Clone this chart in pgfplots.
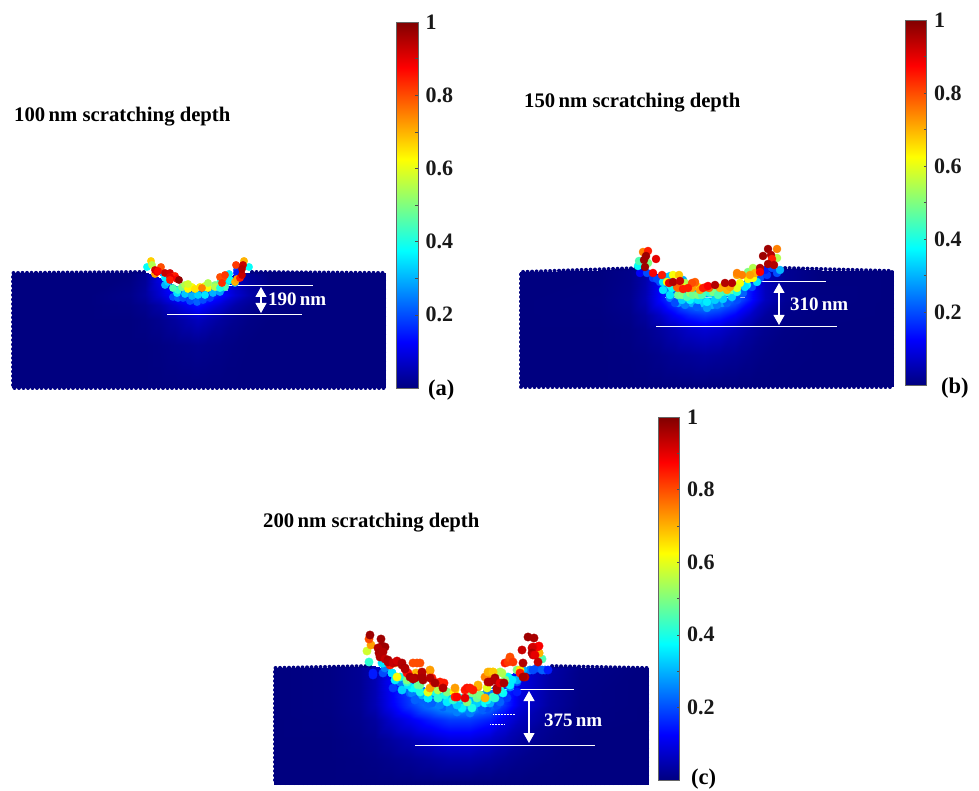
\documentclass[border=0pt]{standalone}
\usepackage{fontspec}
\setmainfont{Liberation Serif}
\usepackage{pgfplots}
\pgfplotsset{compat=1.18}
\usetikzlibrary{arrows.meta}
\definecolor{navy}{RGB}{0,0,128}
\newcommand{\ttl}{\bfseries\fontsize{20.7}{23}\selectfont}
\newcommand{\lbl}{\bfseries\fontsize{19}{21}\selectfont}
\newcommand{\pl}{\bfseries\fontsize{22.5}{24}\selectfont}
\pgfplotsset{
  panel/.style={
    scale only axis, hide axis, clip=false, y dir=reverse,
    colormap/jet, point meta min=0, point meta max=1,
    colorbar,
    colorbar style={
      anchor=north west, width=21.5pt, height=366pt,
      enlargelimits=false, xmin=0, xmax=1,
      ytick={0.2,0.4,0.6,0.8,1}, minor y tick num=1,
      yticklabels={0.2,0.4,0.6,0.8,1},
      tick align=inside, ytick pos=right,
      major tick length=3pt, minor tick length=3pt,
      tick style={color=black!70, line width=.5pt},
      axis line style={color=black!60, line width=.6pt},
      yticklabel style={font=\bfseries\fontsize{22}{24}\selectfont, text=black!90, xshift=4pt},
      /pgf/number format/assume math mode=true,
    },
  },
  base/.style={surf, shader=interp, mesh/cols=15, point meta=explicit},
  barfill/.style={surf, shader=interp, mesh/cols=2, point meta=explicit},
  edge/.style={navy, line width=4pt, line cap=round, dash pattern=on 0pt off 4.5pt},
  pts/.style={scatter, only marks, mark=*, mark size=4pt, point meta=explicit,
    scatter/use mapped color={draw=mapped color, fill=mapped color}},
  wl/.style={white, line width=.8pt},
  wa/.style={white, line width=1.1pt, {Triangle[width=11pt,length=10pt]}-{Triangle[width=11pt,length=10pt]}},
}
\begin{document}
\begin{tikzpicture}
\useasboundingbox (0,0) rectangle (979pt,791pt);
% ---------- panel a
\begin{axis}[panel, at={(0pt,391pt)}, width=470pt, height=400pt, xmin=0, xmax=470, ymin=0, ymax=400,
  colorbar style={at={(parent axis.north west)}, xshift=388pt, yshift=-22pt}]
\addplot[barfill] table[meta=m, row sep=\\] {
x y m\\
396.5 388 0\\ 418 388 0\\ 396.5 22 1\\ 418 22 1\\
};
\addplot[base] table[meta=m, row sep=\\] {
x y m\\
12 273 0\\ 90 273 0\\ 130 272 0\\ 145 272 .02\\ 160 278 .1\\ 175 285 .16\\ 190 289 .2\\ 198 289 .2\\ 205 289 .2\\ 220 283 .16\\ 235 274 .06\\ 250 272 .02\\ 270 272 0\\ 310 272 0\\ 385 273 0\\
12 295 0\\ 90 295 0\\ 130 295 .01\\ 145 295 .03\\ 160 295 .08\\ 175 295 .14\\ 190 295 .2\\ 198 295 .22\\ 205 295 .2\\ 220 295 .14\\ 235 295 .08\\ 250 295 .04\\ 270 295 .01\\ 310 295 0\\ 385 295 0\\
12 305 0\\ 90 305 0\\ 130 305 .005\\ 145 305 .015\\ 160 305 .04\\ 175 305 .08\\ 190 305 .12\\ 198 305 .14\\ 205 305 .12\\ 220 305 .08\\ 235 305 .04\\ 250 305 .02\\ 270 305 .005\\ 310 305 0\\ 385 305 0\\
12 320 0\\ 90 320 0\\ 130 320 0\\ 145 320 .005\\ 160 320 .015\\ 175 320 .03\\ 190 320 .05\\ 198 320 .06\\ 205 320 .05\\ 220 320 .03\\ 235 320 .015\\ 250 320 .005\\ 270 320 0\\ 310 320 0\\ 385 320 0\\
12 345 0\\ 90 345 0\\ 130 345 0\\ 145 345 0\\ 160 345 .003\\ 175 345 .008\\ 190 345 .012\\ 198 345 .015\\ 205 345 .012\\ 220 345 .008\\ 235 345 .003\\ 250 345 0\\ 270 345 0\\ 310 345 0\\ 385 345 0\\
12 388 0\\ 90 388 0\\ 130 388 0\\ 145 388 0\\ 160 388 0\\ 175 388 0\\ 190 388 0\\ 198 388 0\\ 205 388 0\\ 220 388 0\\ 235 388 0\\ 250 388 0\\ 270 388 0\\ 310 388 0\\ 385 388 0\\
};
\addplot[edge] coordinates {(144,272)(13,273)(13,388)(384,388)(384,273)(250,272)};
\addplot[pts, mark size=3.7pt] table[meta=m, row sep=\\] {
x y m\\
173 297 .2\\ 178 298 .22\\ 183 298 .2\\ 190 301 .2\\ 197 302 .22\\ 203 300 .2\\ 210 298 .18\\ 237 270 .2\\ 223 288 .3\\
177 293 .35\\ 185 294 .32\\ 192 296 .3\\ 198 295 .33\\ 205 295 .35\\ 213 293 .3\\ 220 292 .28\\ 165 285 .3\\ 163 273 .3\\ 168 282 .33\\ 227 282 .35\\
235 283 .3\\ 237 273 .15\\ 229 274 .36\\ 230 280 .38\\ 225 287 .45\\ 147 267 .38\\ 249 267 .38\\ 165 278 .36\\ 178 290 .42\\ 220 283 .42\\
173 288 .45\\ 182 287 .5\\ 185 285 .55\\ 192 287 .62\\ 200 287 .65\\ 205 286 .6\\ 215 285 .5\\ 188 289 .63\\ 195 289 .65\\ 208 288 .62\\ 215 287 .55\\ 220 288 .4\\ 202 288 .75\\
188 284 .58\\ 208 283 .55\\
151 261 .67\\ 152 265 .55\\ 161 267 .8\\ 155 274 .72\\ 155 270 .92\\ 157 272 .9\\ 158 271 .87\\ 165 273 .93\\ 170 273 .92\\ 173 277 .8\\ 175 276 .85\\ 170 277 .9\\ 170 280 .85\\ 177 279 .88\\ 179 280 .98\\
235 282 .7\\ 237 279 .72\\ 223 278 .8\\ 220 277 .8\\ 225 275 .82\\ 222 283 .83\\ 240 278 .85\\ 236 265 .82\\ 244 261 .7\\ 242 275 .93\\ 243 265 .93\\ 242 269 .95\\
};
\addplot[wl] coordinates {(195,285.5)(313,285.5)};
\addplot[wl] coordinates {(167,314)(302,314)};
\addplot[white, opacity=.6, line width=.5pt] coordinates {(172,290)(228,290)};
\addplot[wa] coordinates {(261,287)(261,313)};
\node[anchor=west, text=white, inner sep=0pt, font=\lbl] at (axis cs:268,299) {190\,nm};
\node[anchor=west, inner sep=0pt, font=\ttl] at (axis cs:14,116.5) {100\,nm scratching depth};
\node[anchor=west, inner sep=0pt, font=\pl] at (axis cs:428,390) {(a)};
\end{axis}
% ---------- panel b
\begin{axis}[panel, at={(490pt,391pt)}, width=489pt, height=400pt, xmin=490, xmax=979, ymin=0, ymax=400,
  colorbar style={at={(parent axis.north west)}, xshift=406.5pt, yshift=-20pt, height=365pt}]
\addplot[barfill] table[meta=m, row sep=\\] {
x y m\\
905 385 0\\ 926.5 385 0\\ 905 20 1\\ 926.5 20 1\\
};
\addplot[base] table[meta=m, row sep=\\] {
x y m\\
520 272 0\\ 600 270 0\\ 630 268 .01\\ 645 268 .04\\ 660 275 .12\\ 675 281 .2\\ 690 286 .25\\ 705 288 .25\\ 720 287 .25\\ 735 283 .22\\ 750 278 .15\\ 765 270 .06\\ 785 268 .02\\ 820 270 0\\ 893 271 0\\
520 300 0\\ 600 300 .003\\ 630 300 .015\\ 645 300 .05\\ 660 300 .13\\ 675 300 .2\\ 690 300 .27\\ 705 300 .3\\ 720 300 .27\\ 735 300 .22\\ 750 300 .14\\ 765 300 .06\\ 785 300 .02\\ 820 300 .003\\ 893 300 0\\
520 315 0\\ 600 315 .002\\ 630 315 .01\\ 645 315 .03\\ 660 315 .07\\ 675 315 .12\\ 690 315 .16\\ 705 315 .18\\ 720 315 .16\\ 735 315 .12\\ 750 315 .07\\ 765 315 .03\\ 785 315 .01\\ 820 315 .002\\ 893 315 0\\
520 330 0\\ 600 330 0\\ 630 330 .005\\ 645 330 .015\\ 660 330 .03\\ 675 330 .05\\ 690 330 .07\\ 705 330 .08\\ 720 330 .07\\ 735 330 .05\\ 750 330 .03\\ 765 330 .015\\ 785 330 .005\\ 820 330 0\\ 893 330 0\\
520 355 0\\ 600 355 0\\ 630 355 .002\\ 645 355 .005\\ 660 355 .012\\ 675 355 .02\\ 690 355 .025\\ 705 355 .03\\ 720 355 .025\\ 735 355 .02\\ 750 355 .012\\ 765 355 .005\\ 785 355 .002\\ 820 355 0\\ 893 355 0\\
520 387 0\\ 600 387 0\\ 630 387 0\\ 645 387 0\\ 660 387 0\\ 675 387 0\\ 690 387 0\\ 705 387 0\\ 720 387 0\\ 735 387 0\\ 750 387 0\\ 765 387 0\\ 785 387 0\\ 820 387 0\\ 893 387 0\\
};
\addplot[edge] coordinates {(640,268)(521,272)(521,387)(892,387)(892,271)(785,268)};
\addplot[pts] table[meta=m, row sep=\\] {
x y m\\
653 278 .18\\ 660 282 .2\\ 670 298 .25\\ 678 303 .28\\ 692 303 .3\\ 702 303 .33\\ 712 305 .3\\ 722 303 .28\\ 733 298 .25\\ 743 293 .22\\ 752 287 .2\\ 760 278 .2\\ 767 275 .18\\ 777 273 .2\\ 665 277 .3\\
675 303 .2\\ 685 305 .25\\ 697 307 .22\\ 707 308 .28\\ 717 305 .25\\ 727 303 .22\\ 737 300 .2\\ 667 290 .25\\ 640 273 .12\\ 647 273 .2\\ 657 279 .2\\ 765 270 .15\\ 772 268 .2\\ 780 270 .3\\
670 295 .35\\ 682 300 .33\\ 690 300 .38\\ 698 300 .35\\ 707 302 .36\\ 715 300 .33\\ 723 299 .33\\ 732 297 .33\\ 663 282 .35\\ 670 276 .32\\ 683 280 .3\\ 757 282 .35\\ 747 285 .38\\ 745 287 .35\\ 638 266 .38\\ 672 288 .38\\ 663 290 .35\\ 670 285 .4\\
678 295 .48\\ 682 295 .5\\ 687 297 .45\\ 690 293 .52\\ 693 295 .48\\ 698 295 .5\\ 702 295 .45\\ 705 292 .45\\ 710 293 .42\\ 713 292 .5\\ 718 295 .45\\ 722 292 .45\\ 727 292 .42\\ 732 290 .5\\ 737 292 .4\\ 639 261 .45\\ 648 263 .5\\ 748 272 .5\\ 753 268 .55\\ 777 258 .55\\
667 282 .62\\ 685 283 .55\\ 683 287 .6\\ 673 275 .62\\ 679 275 .68\\ 698 287 .65\\ 722 287 .6\\ 748 279 .62\\ 753 278 .62\\ 740 283 .62\\ 737 288 .6\\ 755 273 .7\\ 737 275 .72\\ 742 275 .75\\ 750 275 .72\\
678 288 .75\\ 677 287 .78\\ 695 283 .75\\ 695 282 .78\\ 692 288 .72\\ 700 290 .72\\ 709 288 .78\\ 720 288 .7\\ 727 290 .7\\ 730 287 .72\\ 692 283 .8\\ 683 289 .85\\ 688 288 .85\\ 706 287 .82\\ 703 288 .85\\ 708 286 .88\\ 643 252 .75\\ 777 249 .75\\ 737 273 .75\\
669 283 .9\\ 673 282 .95\\ 680 281 .93\\ 715 285 .95\\ 725 283 .95\\ 732 283 .95\\ 760 268 .95\\ 760 272 .88\\
648 251 .85\\ 646 256 .97\\ 644 260 .97\\ 656 259 .9\\ 645 267 .97\\ 653 273 .88\\ 662 275 .85\\
768 249 .97\\ 763 256 .97\\ 771 255 .95\\ 772 259 .85\\ 768 264 .96\\ 774 265 .95\\
};
\addplot[wl] coordinates {(745,281)(826,281)};
\addplot[wl] coordinates {(656,326.5)(837,326.5)};
\addplot[white, opacity=.6, line width=.5pt] coordinates {(665,297)(745,297)};
\addplot[wa] coordinates {(779,283)(779,325)};
\node[anchor=west, text=white, inner sep=0pt, font=\lbl] at (axis cs:790,304) {310\,nm};
\node[anchor=west, inner sep=0pt, font=\ttl] at (axis cs:524,102.5) {150\,nm scratching depth};
\node[anchor=west, inner sep=0pt, font=\pl] at (axis cs:941,388) {(b)};
\end{axis}
% ---------- panel c
\begin{axis}[panel, at={(240pt,0pt)}, width=490pt, height=391pt, xmin=240, xmax=730, ymin=400, ymax=791,
  colorbar style={at={(parent axis.north west)}, xshift=409.5pt, yshift=-17pt, height=363pt}]
\addplot[barfill] table[meta=m, row sep=\\] {
x y m\\
658 780 0\\ 679.5 780 0\\ 658 417 1\\ 679.5 417 1\\
};
\addplot[base] table[meta=m, row sep=\\] {
x y m\\
274 668 0\\ 330 667 .005\\ 360 666 .02\\ 375 666 .05\\ 390 670 .12\\ 410 680 .2\\ 430 690 .27\\ 450 695 .3\\ 470 694 .3\\ 490 688 .25\\ 505 678 .18\\ 520 668 .1\\ 550 666 .04\\ 580 667 .01\\ 648 668 0\\
274 705 0\\ 330 705 .005\\ 360 705 .02\\ 375 705 .05\\ 390 705 .11\\ 410 705 .18\\ 430 705 .25\\ 450 705 .3\\ 470 705 .3\\ 490 705 .25\\ 505 705 .17\\ 520 705 .09\\ 550 705 .03\\ 580 705 .005\\ 648 705 0\\
274 720 0\\ 330 720 .003\\ 360 720 .015\\ 375 720 .03\\ 390 720 .07\\ 410 720 .11\\ 430 720 .15\\ 450 720 .18\\ 470 720 .18\\ 490 720 .15\\ 505 720 .1\\ 520 720 .06\\ 550 720 .02\\ 580 720 .003\\ 648 720 0\\
274 740 0\\ 330 740 0\\ 360 740 .008\\ 375 740 .015\\ 390 740 .03\\ 410 740 .05\\ 430 740 .07\\ 450 740 .09\\ 470 740 .09\\ 490 740 .07\\ 505 740 .05\\ 520 740 .03\\ 550 740 .01\\ 580 740 0\\ 648 740 0\\
274 760 0\\ 330 760 0\\ 360 760 .003\\ 375 760 .006\\ 390 760 .012\\ 410 760 .02\\ 430 760 .03\\ 450 760 .04\\ 470 760 .04\\ 490 760 .03\\ 505 760 .02\\ 520 760 .012\\ 550 760 .004\\ 580 760 0\\ 648 760 0\\
274 784 0\\ 330 784 0\\ 360 784 0\\ 375 784 0\\ 390 784 0\\ 410 784 0\\ 430 784 0\\ 450 784 0\\ 470 784 0\\ 490 784 0\\ 505 784 0\\ 520 784 0\\ 550 784 0\\ 580 784 0\\ 648 784 0\\
};
\addplot[edge] coordinates {(370,666)(275,668)(275,783)(647,783)(647,668)(548,666)};
\addplot[pts, mark size=4.2pt] table[meta=m, row sep=\\] {
x y m\\
403 688 .22\\ 410 693 .22\\ 422 700 .22\\ 432 703 .22\\ 443 707 .22\\ 457 712 .25\\ 470 713 .25\\ 483 710 .22\\ 497 705 .2\\ 507 698 .18\\ 517 692 .15\\ 373 673 .15\\ 383 673 .2\\ 530 670 .25\\ 537 668 .2\\ 545 670 .2\\
373 675 .15\\ 393 688 .18\\ 385 668 .25\\ 487 708 .2\\ 500 702 .22\\ 510 687 .25\\ 517 682 .2\\ 533 670 .2\\ 542 670 .22\\ 548 670 .15\\ 440 705 .25\\ 450 708 .25\\ 462 709 .28\\ 472 710 .25\\ 412 693 .25\\ 422 695 .3\\ 400 682 .25\\ 415 700 .22\\ 428 704 .22\\ 482 708 .22\\
523 670 .3\\ 517 680 .3\\ 383 663 .35\\ 392 673 .36\\ 510 685 .36\\ 462 708 .36\\ 485 703 .38\\ 412 688 .38\\ 428 698 .38\\
402 690 .33\\ 408 685 .35\\ 428 698 .36\\ 438 698 .38\\ 447 702 .36\\ 457 705 .33\\ 468 702 .36\\ 477 703 .33\\ 490 703 .3\\ 487 700 .38\\ 503 693 .38\\ 392 673 .35\\ 382 663 .35\\ 508 677 .38\\ 369 662 .42\\ 395 680 .36\\ 415 688 .38\\ 435 692 .4\\ 460 698 .4\\ 512 680 .36\\
400 677 .4\\ 407 682 .42\\ 418 685 .48\\ 420 692 .4\\ 438 698 .42\\ 445 695 .4\\ 453 700 .42\\ 472 708 .4\\ 467 702 .5\\ 477 698 .48\\ 493 697 .45\\ 500 690 .4\\
397 677 .62\\ 407 680 .5\\ 420 685 .48\\ 447 692 .5\\ 472 693 .5\\ 480 695 .5\\ 495 698 .42\\ 517 670 .5\\ 542 659 .45\\ 367 651 .58\\ 428 692 .63\\ 454 692 .63\\ 500 672 .55\\ 493 672 .63\\ 490 672 .68\\ 487 677 .72\\ 438 690 .55\\ 505 680 .5\\ 428 692 .6\\ 455 690 .63\\ 487 688 .6\\ 502 673 .55\\ 520 670 .65\\
395 663 .72\\ 416 673 .7\\ 430 671 .75\\ 430 688 .72\\ 455 688 .72\\ 478 687 .72\\ 503 683 .72\\ 539 653 .7\\ 371 645 .72\\ 430 670 .72\\ 478 685 .7\\ 485 698 .7\\ 485 677 .75\\ 488 672 .7\\ 493 672 .68\\ 539 653 .7\\
369 639 .8\\ 417 663 .8\\ 413 663 .8\\ 420 663 .8\\ 390 665 .85\\ 408 673 .85\\ 407 673 .86\\ 432 678 .85\\ 433 681 .85\\ 440 682 .85\\ 440 683 .85\\ 443 685 .85\\ 444 683 .85\\ 455 697 .85\\ 457 697 .87\\ 465 690 .85\\ 467 688 .86\\ 473 690 .85\\ 470 688 .85\\ 505 663 .85\\ 508 662 .82\\ 510 658 .8\\ 510 657 .8\\ 513 662 .82\\ 520 673 .85\\ 537 647 .88\\ 539 646 .88\\ 533 647 .9\\
370 635 .97\\ 381 639 .97\\ 382 646 .97\\ 385 647 .97\\ 378 648 .95\\ 379 653 .96\\ 383 652 .95\\ 380 657 .95\\ 385 659 .93\\ 388 660 .96\\ 388 662 .95\\ 393 663 .93\\ 397 662 .95\\ 397 661 .92\\ 402 663 .95\\ 402 665 .95\\ 405 668 .96\\ 405 669 .95\\ 410 677 .96\\ 415 678 .96\\ 422 675 .95\\ 423 680 .96\\ 422 672 .95\\ 422 678 .96\\ 413 679 .95\\ 430 678 .95\\ 435 683 .96\\ 443 688 .95\\ 465 698 .9\\ 490 682 .96\\ 488 682 .95\\ 495 678 .96\\ 495 680 .95\\ 497 688 .96\\ 497 690 .95\\ 500 683 .9\\ 504 683 .96\\ 523 663 .95\\ 522 650 .93\\ 528 637 .97\\ 534 638 .96\\ 532 648 .92\\ 532 653 .96\\ 533 655 .93\\ 535 655 .9\\ 538 662 .93\\ 525 677 .93\\ 523 677 .96\\
};
\addplot[wl] coordinates {(455,689)(574,689)};
\addplot[wl] coordinates {(415,745)(595,745)};
\addplot[white, line width=.5pt, densely dotted] coordinates {(493,714)(515,714)};
\addplot[white, line width=.5pt, densely dotted] coordinates {(490,724)(505,724)};
\addplot[wa] coordinates {(529,691)(529,743)};
\node[anchor=west, text=white, inner sep=0pt, font=\lbl] at (axis cs:544,720) {375\,nm};
\node[anchor=west, inner sep=0pt, font=\ttl] at (axis cs:263,522.5) {200\,nm scratching depth};
\node[anchor=west, inner sep=0pt, font=\pl] at (axis cs:691,779) {(c)};
\end{axis}
\end{tikzpicture}
\end{document}
